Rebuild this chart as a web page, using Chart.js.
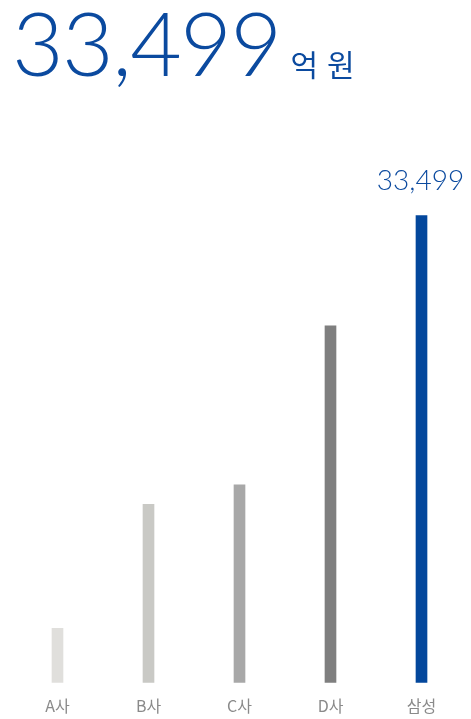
<!DOCTYPE html>
<html>
<head>
<meta charset="utf-8">
<script src="https://cdn.jsdelivr.net/npm/chart.js@4"></script>
<style>
  html, body { margin: 0; padding: 0; background: #fff; }
  #wrap { position: relative; width: 471px; height: 719px; }
  #total {
    position: absolute; left: 12px; top: -12px;
    color: #0b4a9f; white-space: nowrap;
  }
  #total .num { font-family: 'Lato', sans-serif; font-weight: 300; font-size: 89px; letter-spacing: -1.5px; }
  #total .unit { font-family: 'Noto Sans CJK KR', sans-serif; font-weight: 400; font-size: 30px; margin-left: 10px; word-spacing: 2px; }
  #chart { position: absolute; left: 0; top: 0; }
</style>
</head>
<body>
<div id="wrap">
  <canvas id="chart" width="471" height="719"></canvas>
  <div id="total"><span class="num">33,499</span><span class="unit">억 원</span></div>
</div>
<script>
var companies = ['A사', 'B사', 'C사', 'D사', '삼성'];
var sales = [3900, 12800, 14200, 25600, 33499];
var barColors = ['#e0dfdc', '#c9c9c5', '#a8a8a8', '#7f7f7f', '#03479c'];

// value label above the highlighted (last) bar only
var lastValueLabel = {
    id: 'lastValueLabel',
    afterDatasetsDraw: function(chart) {
        var ctx = chart.ctx;
        var meta = chart.getDatasetMeta(0);
        var i = sales.length - 1;
        var bar = meta.data[i];
        ctx.save();
        ctx.fillStyle = '#0b4a9f';
        ctx.font = '300 28px Lato, sans-serif';
        ctx.textAlign = 'center';
        ctx.textBaseline = 'bottom';
        ctx.fillText(sales[i].toLocaleString('en-US'), bar.x - 1, bar.y - 21);
        ctx.restore();
    }
};

var barChart = document.getElementById('chart').getContext('2d');
new Chart(barChart, {
    type: 'bar',
    data: {
        labels: companies,
        datasets: [{
            data: sales,
            backgroundColor: barColors,
            barThickness: 11
        }]
    },
    options: {
        responsive: false,
        animation: false,
        plugins: {
            legend: { display: false },
            tooltip: { enabled: false }
        },
        layout: {
            padding: { left: 12, right: 4, top: 150, bottom: -3 }
        },
        scales: {
            x: {
                grid: { display: false },
                border: { display: false },
                ticks: {
                    color: '#8a8a8a',
                    padding: 6,
                    font: { family: 'Noto Sans CJK KR', size: 16, weight: 400 }
                }
            },
            y: {
                display: false,
                min: 0,
                max: 38200
            }
        }
    },
    plugins: [lastValueLabel]
});
</script>
</body>
</html>
